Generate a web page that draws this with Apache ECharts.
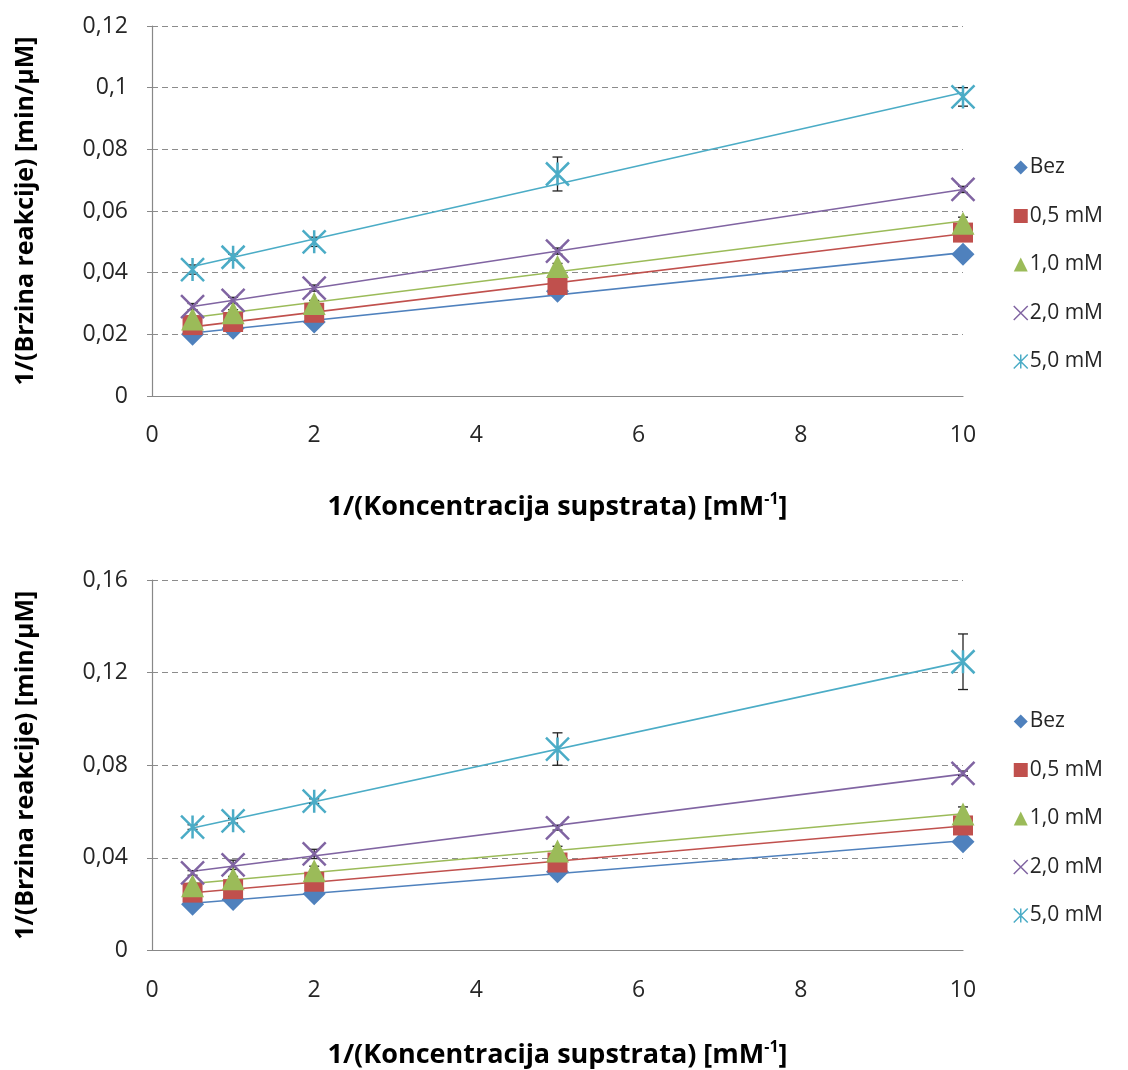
<!DOCTYPE html>
<html>
<head>
<meta charset="utf-8">
<script src="https://cdn.jsdelivr.net/npm/echarts@6/dist/echarts.min.js"></script>
<style>
html,body{margin:0;padding:0;background:#fff;}
#chart{width:1128px;height:1070px;}
</style>
</head>
<body>
<div id="chart"></div>
<script>
// ---------- DATA ----------
const xValues = [0.5, 1, 2, 5, 10];
const seriesNames = ['Bez', '0,5 mM', '1,0 mM', '2,0 mM', '5,0 mM'];

// Top chart values
const topBez = [0.020, 0.022, 0.024, 0.034, 0.046];
const top05 = [0.023, 0.024, 0.027, 0.036, 0.053];
const top10 = [0.025, 0.027, 0.030, 0.042, 0.056];
const top20 = [0.029, 0.031, 0.035, 0.047, 0.067];
const top50 = [0.041, 0.045, 0.050, 0.072, 0.097];
// Top chart error bars
const topBezErr = [0.0005, 0.0005, 0.0005, 0.0005, 0.001];
const top05Err = [0.001, 0.001, 0.001, 0.001, 0.001];
const top10Err = [0.001, 0.001, 0.001, 0.001, 0.002];
const top20Err = [0.001, 0.001, 0.001, 0.001, 0.001];
const top50Err = [0.0015, 0.001, 0.0015, 0.0055, 0.003];

// Bottom chart values
const botBez = [0.020, 0.022, 0.0245, 0.034, 0.047];
const bot05 = [0.025, 0.0265, 0.0297, 0.038, 0.054];
const bot10 = [0.028, 0.031, 0.0344, 0.043, 0.059];
const bot20 = [0.0335, 0.037, 0.0417, 0.053, 0.0765];
const bot50 = [0.0533, 0.056, 0.0645, 0.087, 0.1247];
// Bottom chart error bars
const botBezErr = [0.0005, 0.0005, 0.0005, 0.0005, 0.001];
const bot05Err = [0.001, 0.001, 0.001, 0.001, 0.001];
const bot10Err = [0.001, 0.001, 0.002, 0.002, 0.003];
const bot20Err = [0.001, 0.002, 0.002, 0.001, 0.001];
const bot50Err = [0.001, 0.001, 0.001, 0.007, 0.012];

// Axis ticks
const xTicks = [0, 2, 4, 6, 8, 10];
const topYTicks = [0, 0.02, 0.04, 0.06, 0.08, 0.1, 0.12];
const botYTicks = [0, 0.04, 0.08, 0.12, 0.16];

// ---------- STYLE ----------
const colors = ['#4F81BD', '#C0504D', '#9BBB59', '#8064A2', '#4BACC6'];
const X_PATH = 'path://M0,0L10,10M10,0L0,10';
const STAR_PATH = 'path://M0,0L10,10M10,0L0,10M5,0L5,10';
const symbols = ['diamond', 'rect', 'triangle', X_PATH, STAR_PATH];
const strokeOnly = [false, false, false, true, true];
const FONT = '"Open Sans", Lato, sans-serif';

const topSets = [topBez, top05, top10, top20, top50];
const topErrs = [topBezErr, top05Err, top10Err, top20Err, top50Err];
const botSets = [botBez, bot05, bot10, bot20, bot50];
const botErrs = [botBezErr, bot05Err, bot10Err, bot20Err, bot50Err];

function linFit(xs, ys) {
  const n = xs.length;
  const mx = xs.reduce((a, b) => a + b, 0) / n;
  const my = ys.reduce((a, b) => a + b, 0) / n;
  let sxy = 0, sxx = 0;
  for (let i = 0; i < n; i++) { sxy += (xs[i] - mx) * (ys[i] - my); sxx += (xs[i] - mx) * (xs[i] - mx); }
  const b = sxy / sxx;
  return { a: my - b * mx, b: b };
}

function fmt(v) { return String(+v.toFixed(4)).replace('.', ','); }

function buildSeries(sets, errs, gi) {
  const out = [];
  sets.forEach((ys, k) => {
    const fit = linFit(xValues, ys);
    const x0 = xValues[0], x1 = xValues[xValues.length - 1];
    out.push({
      type: 'line', name: 'trend' + gi + k, xAxisIndex: gi, yAxisIndex: gi,
      data: [[x0, fit.a + fit.b * x0], [x1, fit.a + fit.b * x1]],
      showSymbol: false, symbol: 'none', silent: true,
      lineStyle: { color: colors[k], width: 1.6 }, z: 2
    });
  });
  sets.forEach((ys, k) => {
    out.push({
      type: 'custom', name: 'err' + gi + k, xAxisIndex: gi, yAxisIndex: gi, silent: true,
      data: xValues.map((x, i) => [x, ys[i], errs[k][i]]),
      renderItem: function (params, api) {
        const x = api.value(0), y = api.value(1), e = api.value(2);
        const hi = api.coord([x, y + e]);
        const lo = api.coord([x, y - e]);
        const w = 5;
        const st = { stroke: '#222', lineWidth: 1.3 };
        return {
          type: 'group', children: [
            { type: 'line', shape: { x1: hi[0], y1: hi[1], x2: lo[0], y2: lo[1] }, style: st },
            { type: 'line', shape: { x1: hi[0] - w, y1: hi[1], x2: hi[0] + w, y2: hi[1] }, style: st },
            { type: 'line', shape: { x1: lo[0] - w, y1: lo[1], x2: lo[0] + w, y2: lo[1] }, style: st }
          ]
        };
      },
      z: 2.5
    });
  });
  sets.forEach((ys, k) => {
    out.push({
      type: 'scatter', name: seriesNames[k], xAxisIndex: gi, yAxisIndex: gi,
      data: xValues.map((x, i) => [x, ys[i]]),
      symbol: symbols[k], symbolSize: k === 1 ? 20 : 23,
      itemStyle: strokeOnly[k]
        ? { color: 'rgba(0,0,0,0)', borderColor: colors[k], borderWidth: 2.5, opacity: 1 }
        : { color: colors[k], opacity: 1 },
      z: 3 + k * 0.01
    });
  });
  return out;
}

const xName = '{t|1/(Koncentracija supstrata) [mM}{s|-1}{t|]}';
const xNameStyle = {
  rich: {
    t: { fontFamily: FONT, fontSize: 27, fontWeight: 'bold', color: '#000', lineHeight: 32 },
    s: { fontFamily: FONT, fontSize: 16, fontWeight: 'bold', color: '#000', lineHeight: 32, verticalAlign: 'top', padding: [0, 0, 11, 0] }
  }
};

function xAxisCfg(gi, gap) {
  return {
    type: 'value', gridIndex: gi, min: xTicks[0], max: xTicks[xTicks.length - 1], interval: xTicks[1] - xTicks[0],
    name: xName, nameLocation: 'middle', nameGap: gap, nameTextStyle: xNameStyle,
    axisLine: { show: true, onZero: false, lineStyle: { color: '#888', width: 1.2 } },
    axisTick: { show: false },
    axisLabel: { fontFamily: FONT, fontSize: 23, color: '#262626', margin: 28 },
    splitLine: { show: false }
  };
}
function yAxisCfg(gi, ticks, gap) {
  return {
    type: 'value', gridIndex: gi, min: ticks[0], max: ticks[ticks.length - 1], interval: ticks[1] - ticks[0],
    name: '1/(Brzina reakcije) [min/µM]', nameLocation: 'middle', nameGap: gap, nameRotate: 90,
    nameTextStyle: { fontFamily: FONT, fontSize: 25, fontWeight: 'bold', color: '#000' },
    axisLine: { show: true, lineStyle: { color: '#888', width: 1.2 } },
    axisTick: { show: true, inside: false, length: 5, lineStyle: { color: '#888' } },
    axisLabel: { fontFamily: FONT, fontSize: 23, color: '#262626', margin: 24, formatter: fmt },
    splitLine: { show: true, lineStyle: { color: '#8c8c8c', type: [6, 4], width: 1.2 } }
  };
}

function legendCfg(top) {
  return {
    orient: 'vertical', left: 1008, top: top, itemGap: 27.5, itemWidth: 14, itemHeight: 14,
    data: seriesNames.map((n, k) => ({
      name: n,
      icon: symbols[k],
      itemStyle: strokeOnly[k]
        ? { color: 'rgba(0,0,0,0)', borderColor: colors[k], borderWidth: 1.5 }
        : { color: colors[k], borderWidth: 0, opacity: 1 }
    })),
    textStyle: { fontFamily: FONT, fontSize: 21, color: '#262626', padding: [0, 0, 0, -3] },
    selectedMode: false
  };
}

const chart = echarts.init(document.getElementById('chart'), null, { renderer: 'canvas' });
chart.setOption({
  animation: false,
  backgroundColor: '#fff',
  grid: [
    { left: 152, top: 26, width: 811, height: 370 },
    { left: 152, top: 580, width: 811, height: 372 }
  ],
  xAxis: [xAxisCfg(0, 95), xAxisCfg(1, 89)],
  yAxis: [yAxisCfg(0, topYTicks, 114), yAxisCfg(1, botYTicks, 114)],
  legend: [legendCfg(152), legendCfg(706)],
  series: buildSeries(topSets, topErrs, 0).concat(buildSeries(botSets, botErrs, 1))
});
</script>
</body>
</html>
